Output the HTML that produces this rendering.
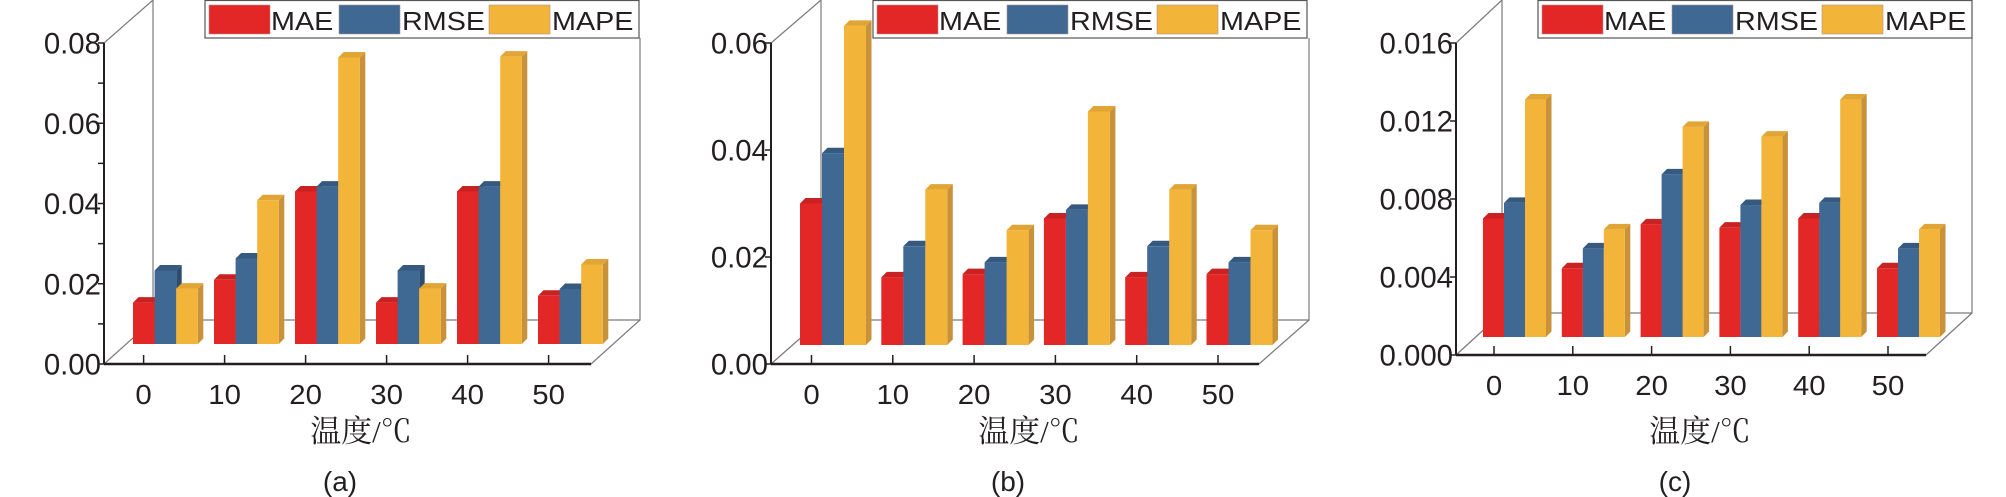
<!DOCTYPE html>
<html><head><meta charset="utf-8">
<style>
html,body{margin:0;padding:0;background:#fff;}
svg{display:block;}
text{font-family:"Liberation Sans",Arial,sans-serif;fill:#231f20;}
.cjk{font-family:"Liberation Serif","Noto Serif CJK SC",serif;}
</style></head>
<body>
<svg id="chart" width="2006" height="497" viewBox="0 0 2006 497" xmlns="http://www.w3.org/2000/svg"></svg>
<script>
const categories = ["0","10","20","30","40","50"];
const seriesNames = ["MAE","RMSE","MAPE"];
const panelLabels = ["(a)","(b)","(c)"];
const maeA  = [0.0153,0.0210,0.0430,0.0153,0.0430,0.0170];
const rmseA = [0.0233,0.0263,0.0442,0.0233,0.0442,0.0187];
const mapeA = [0.0188,0.0408,0.0764,0.0188,0.0766,0.0248];
const maeB  = [0.0300,0.0162,0.0168,0.0272,0.0162,0.0168];
const rmseB = [0.0394,0.0220,0.0190,0.0288,0.0220,0.0190];
const mapeB = [0.0632,0.0326,0.0250,0.0472,0.0326,0.0250];
const maeC  = [0.0070,0.00445,0.0067,0.00653,0.0070,0.00445];
const rmseC = [0.0078,0.00547,0.00926,0.00769,0.0078,0.00547];
const mapeC = [0.0131,0.00644,0.0117,0.0112,0.0131,0.00644];
const ticksA = ["0.00","0.02","0.04","0.06","0.08"];
const ticksB = ["0.00","0.02","0.04","0.06"];
const ticksC = ["0.000","0.004","0.008","0.012","0.016"];
const tickValsA = [0,0.02,0.04,0.06,0.08];
const tickValsB = [0,0.02,0.04,0.06];
const tickValsC = [0,0.004,0.008,0.012,0.016];

const NS="http://www.w3.org/2000/svg";
const svg=document.getElementById('chart');
function el(tag,attrs,parent){const e=document.createElementNS(NS,tag);for(const k in attrs)e.setAttribute(k,attrs[k]);(parent||svg).appendChild(e);return e;}

const colors=[["#e32726","#b81d1d","#c92222"],["#3f6893","#2d4d70","#35597f"],["#f3b43a","#c8923a","#e0a534"]];

const panels=[
 {ox:104,y0:364,ymax:43,max:0.08,dx:49,dy:44,xEnd:591,base:344,bar0:133,bw:21.6,step:81,tick0:143.6,leg:205,title:361,lab:340,data:[maeA,rmseA,mapeA],ticks:ticksA,tv:tickValsA,minor:true,id:'a'},
 {ox:771,y0:364,ymax:43,max:0.06,dx:50,dy:44,xEnd:1259,base:345,bar0:800,bw:22,step:81.3,tick0:811.5,leg:873,title:1029,lab:1008,data:[maeB,rmseB,mapeB],ticks:ticksB,tv:tickValsB,minor:false,id:'b'},
 {ox:1456,y0:355,ymax:43,max:0.016,dx:46,dy:42,xEnd:1926,base:337,bar0:1483,bw:21,step:78.8,tick0:1494,leg:1538,title:1700,lab:1675,data:[maeC,rmseC,mapeC],ticks:ticksC,tv:tickValsC,minor:false,id:'c'}
];

panels.forEach((p,pi)=>{
 const g=el('g',{});
 
 
 const yS=v=>p.y0-(v/p.max)*(p.y0-p.ymax);
 const bx=p.ox+p.dx, by=p.y0-p.dy, bxe=p.xEnd+p.dx;
 const frame=el('path',{d:`M${p.ox},${p.ymax} L${bx},0 M${bx},0 L${bx},${by} L${bxe},${by} L${bxe},38 M${p.ox},${p.y0} L${bx},${by} M${p.xEnd},${p.y0} L${bxe},${by}`,stroke:'#7a7a7a','stroke-width':1.2,fill:'none'},g);
 
 
 const ya=el('line',{x1:p.ox,y1:p.ymax,x2:p.ox,y2:p.y0,stroke:'#231f20','stroke-width':2},g);
 
 
 const xa=el('line',{x1:p.ox,y1:p.y0,x2:p.xEnd,y2:p.y0,stroke:'#231f20','stroke-width':2.5},g);
 
 
 p.tv.forEach((v,i)=>{
  const y=yS(v);
  el('line',{x1:p.ox-6,y1:y,x2:p.ox,y2:y,stroke:'#231f20','stroke-width':1.5},g);
  const t=el('text',{transform:`translate(${p.ox-3},${y+10.5}) scale(1.05,1.05)`,'font-size':28,'text-anchor':'end'},g);
  t.textContent=p.ticks[i];
  
  
  if(p.minor&&i<p.tv.length-1){const ym=yS((v+p.tv[i+1])/2);el('line',{x1:p.ox-6,y1:ym,x2:p.ox,y2:ym,stroke:'#231f20','stroke-width':1.5},g);}
 });
 categories.forEach((c,i)=>{
  const tx=p.tick0+i*p.step;
  el('line',{x1:tx,y1:p.y0-9,x2:tx,y2:p.y0,stroke:'#231f20','stroke-width':1.5},g);
  const t=el('text',{transform:`translate(${tx},${p.y0+40}) scale(1.05,1)`,'font-size':28,'text-anchor':'middle'},g);
  t.textContent=c;
  
  
  p.data.forEach((arr,s)=>{
   const x=p.bar0+i*p.step+s*p.bw, top=yS(arr[i]), w=p.bw, d=5.5;
   const col=colors[s];
   const side=el('path',{d:`M${x+w},${top} L${x+w+d},${top-d} L${x+w+d},${p.base-d} L${x+w},${p.base} Z`,fill:col[1]},g);
   
   
   const tp=el('path',{d:`M${x},${top} L${x+d},${top-d} L${x+w+d},${top-d} L${x+w},${top} Z`,fill:col[2]},g);
   
   
   const r=el('rect',{x:x,y:top,width:w,height:p.base-top,fill:col[0]},g);
   
   
  });
 });
 const lg=el('g',{},g);
 
 
 el('rect',{x:p.leg,y:0.5,width:434,height:37.5,fill:'#fff',stroke:'#555','stroke-width':1.2},lg);
 const offs=[[4,66],[134,197],[284,347]];
 seriesNames.forEach((n,s)=>{
  const sw=el('rect',{x:p.leg+offs[s][0],y:5,width:61,height:29,fill:colors[s][0],stroke:'#b09090','stroke-width':0.6},lg);
  
  
  const t=el('text',{transform:`translate(${p.leg+offs[s][1]},30) scale(1.15,1.05)`,'font-size':25},lg);
  t.textContent=n;
  
  
 });
 const xt=el('text',{x:p.title,y:442,'font-size':31,'text-anchor':'middle',class:'cjk',fill:'#333'},g);
 xt.textContent='温度/℃';
 
 
 const pl=el('text',{x:p.lab,y:491,'font-size':28,'text-anchor':'middle'},g);
 pl.textContent=panelLabels[pi];
 
 
});
</script>
</body></html>
